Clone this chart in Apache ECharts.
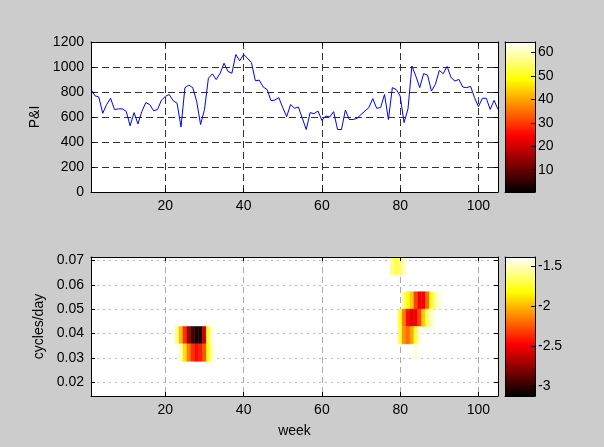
<!DOCTYPE html>
<html>
<head>
<meta charset="utf-8">
<script src="https://cdn.jsdelivr.net/npm/echarts@6/dist/echarts.min.js"></script>
<style>
html, body { margin: 0; padding: 0; background: #cccccc; }
#main { width: 604px; height: 447px; }
</style>
</head>
<body>
<div id="main"></div>
<script>
// weekly P&I, weeks 1..105
var pnlValues = [
	820, 770, 760, 630, 700, 750, 660, 665, 665, 645,
	530, 635, 545, 645, 715, 700, 650, 660, 735, 765,
	780, 730, 710, 520, 835, 855, 835, 725, 540, 660,
	910, 945, 900, 950, 1030, 965, 950, 1100, 1050, 1100,
	1070, 1035, 890, 895, 840, 820, 730, 736, 755, 675,
	603, 700, 670, 680, 590, 500, 635, 627, 648, 573,
	608, 600, 643, 500, 500, 656, 580, 580, 590, 620,
	648, 675, 747, 670, 675, 780, 580, 835, 820, 768,
	555, 665, 1008, 928, 835, 947, 935, 808, 861, 973,
	947, 1005, 915, 888, 901, 840, 835, 845, 755, 683,
	750, 750, 661, 733, 661
];
var weekTicks = [20, 40, 60, 80, 100];
var pnlTicks = [0, 200, 400, 600, 800, 1000, 1200];

// spectrum: frequency bin centres (cycles/day) and the coloured cells [week, bin, log power]
var freqCenters = [0.01786, 0.02500, 0.03214, 0.03929, 0.04643, 0.05357, 0.06071, 0.06786];
var binHeight = 1 / 140;
var freqTicks = [0.02, 0.03, 0.04, 0.05, 0.06, 0.07];
var spectrumCells = [
	// first burst
	[23, 3, -1.6], [24, 3, -2.0], [25, 3, -2.35], [26, 3, -2.7], [27, 3, -2.95],
	[28, 3, -3.05], [29, 3, -3.05], [30, 3, -2.6], [31, 3, -1.75], [32, 3, -1.45],
	[24, 2, -1.5], [25, 2, -1.9], [26, 2, -2.15], [27, 2, -2.35], [28, 2, -2.45],
	[29, 2, -2.4], [30, 2, -2.25], [31, 2, -1.8], [32, 2, -1.5],
	// second burst
	[78, 7, -1.6], [79, 7, -1.7], [80, 7, -1.65], [81, 7, -1.5],
	[81, 5, -1.6], [82, 5, -1.8], [83, 5, -1.95], [84, 5, -2.3], [85, 5, -2.5],
	[86, 5, -2.5], [87, 5, -2.2], [88, 5, -1.8], [89, 5, -1.55], [90, 5, -1.45],
	[80, 4, -1.75], [81, 4, -2.15], [82, 4, -2.45], [83, 4, -2.55], [84, 4, -2.5],
	[85, 4, -2.3], [86, 4, -1.95], [87, 4, -1.65], [88, 4, -1.5],
	[80, 3, -1.7], [81, 3, -2.1], [82, 3, -2.2], [83, 3, -2.05], [84, 3, -1.75], [85, 3, -1.45],
	[84, 2, -1.45]
];

// colour bars
var topBarRange = [0.5, 64.5];
var topBarTicks = [10, 20, 30, 40, 50, 60];
var bottomBarRange = [-3.12, -1.39];
var bottomBarTicks = [-3, -2.5, -2, -1.5];

var hotColors = ['#000000', '#550000', '#aa0000', '#ff0000', '#ff5500', '#ffaa00', '#ffff00', '#ffff80', '#ffffff'];
var hotGradient = new echarts.graphic.LinearGradient(0, 1, 0, 0, [
	{ offset: 0, color: '#000000' },
	{ offset: 0.375, color: '#ff0000' },
	{ offset: 0.75, color: '#ffff00' },
	{ offset: 1, color: '#ffffff' }
]);

var font = { fontFamily: 'Liberation Sans', fontSize: 14, color: '#000' };

var pnlData = [];
for (var i = 0; i < pnlValues.length; i++) {
	pnlData.push([i + 1, pnlValues[i]]);
}
var cellData = [];
for (var i = 0; i < spectrumCells.length; i++) {
	var c = spectrumCells[i];
	cellData.push([c[0], freqCenters[c[1]], c[2]]);
}

function plainNumber(v) { //no thousands separator
	return String(v);
}

// an axis with frame line and inward ticks; labels only when asked
function frameAxis(gridIndex, position, min, max, ticks, showLabel, extra) {
	var ax = {
		type: 'value',
		gridIndex: gridIndex,
		position: position,
		min: min,
		max: max,
		z: 10,
		axisLine: { show: true, onZero: false, lineStyle: { color: '#000', width: 1 } },
		axisTick: { show: ticks != null, inside: true, length: 4, customValues: ticks || undefined, lineStyle: { color: '#000' } },
		axisLabel: {
			show: showLabel, customValues: ticks || undefined, margin: 7, formatter: plainNumber,
			fontFamily: font.fontFamily, fontSize: font.fontSize, color: font.color
		},
		splitLine: { show: false }
	};
	for (var k in extra) ax[k] = extra[k];
	return ax;
}

var myChart = echarts.init(document.getElementById('main'), null, { renderer: 'canvas' });

var option = {
	backgroundColor: '#cccccc',
	animation: false,
	grid: [
		{ left: 91, top: 42, width: 407, height: 150, show: true, backgroundColor: '#fff', borderWidth: 0 },
		{ left: 505, top: 42, width: 30, height: 150 },
		{ left: 91, top: 257, width: 407, height: 139, show: true, backgroundColor: '#fff', borderWidth: 0 },
		{ left: 505, top: 257, width: 30, height: 139 }
	],
	xAxis: [
		frameAxis(0, 'bottom', 1, 105, weekTicks, true, {
			z: 1,
			splitLine: { show: true, lineStyle: { color: '#333', type: [7, 4], width: 1 } }
		}),
		frameAxis(0, 'top', 1, 105, weekTicks, false),
		frameAxis(1, 'bottom', 0, 1, null, false),
		frameAxis(1, 'top', 0, 1, null, false),
		frameAxis(2, 'bottom', 1, 105, weekTicks, true, {
			z: 1,
			name: 'week', nameLocation: 'middle', nameGap: 28,
			nameTextStyle: font,
			splitLine: { show: true, lineStyle: { color: '#aaaaaa', type: [6, 4], width: 1 } }
		}),
		frameAxis(2, 'top', 1, 105, weekTicks, false),
		frameAxis(3, 'bottom', 0, 1, null, false),
		frameAxis(3, 'top', 0, 1, null, false)
	],
	yAxis: [
		frameAxis(0, 'left', 0, 1200, pnlTicks, true, {
			z: 1,
			name: 'P&I', nameLocation: 'middle', nameGap: 32,
			nameTextStyle: font,
			splitLine: { show: true, lineStyle: { color: '#333', type: [7, 4], width: 1 } }
		}),
		frameAxis(0, 'right', 0, 1200, pnlTicks, false),
		frameAxis(1, 'left', topBarRange[0], topBarRange[1], null, false),
		frameAxis(1, 'right', topBarRange[0], topBarRange[1], topBarTicks, true, {
			axisLabel: { show: true, customValues: topBarTicks, margin: 3, fontFamily: font.fontFamily, fontSize: font.fontSize, color: font.color }
		}),
		frameAxis(2, 'left', 1 / 70, 1 / 14, freqTicks, true, {
			z: 1,
			name: 'cycles/day', nameLocation: 'middle', nameGap: 38,
			nameTextStyle: font,
			axisLabel: {
				show: true, customValues: freqTicks, margin: 7, fontFamily: font.fontFamily, fontSize: font.fontSize, color: font.color,
				formatter: function (v) { return v.toFixed(2); }
			},
			splitLine: { show: true, lineStyle: { color: '#bbbbbb', type: [2, 4], width: 1 } }
		}),
		frameAxis(2, 'right', 1 / 70, 1 / 14, freqTicks, false),
		frameAxis(3, 'left', bottomBarRange[0], bottomBarRange[1], null, false),
		frameAxis(3, 'right', bottomBarRange[0], bottomBarRange[1], bottomBarTicks, true, {
			axisLabel: { show: true, customValues: bottomBarTicks, margin: 3, fontFamily: font.fontFamily, fontSize: font.fontSize, color: font.color }
		})
	],
	visualMap: [{
		type: 'continuous',
		show: false,
		seriesIndex: 2,
		dimension: 2,
		min: bottomBarRange[0],
		max: bottomBarRange[1],
		inRange: { color: hotColors }
	}],
	series: [
		{
			type: 'line',
			xAxisIndex: 0,
			yAxisIndex: 0,
			data: pnlData,
			showSymbol: false,
			lineStyle: { color: '#0000ff', width: 1 },
			z: 3
		},
		{ // top colour bar
			type: 'custom',
			xAxisIndex: 2,
			yAxisIndex: 2,
			data: [[0, 1, topBarRange[0], topBarRange[1]]],
			encode: { x: [0, 1], y: [2, 3] },
			renderItem: function (params, api) {
				var p0 = api.coord([api.value(0), api.value(3)]);
				var p1 = api.coord([api.value(1), api.value(2)]);
				return { type: 'rect', shape: { x: p0[0], y: p0[1], width: p1[0] - p0[0], height: p1[1] - p0[1] }, style: { fill: hotGradient } };
			}
		},
		{ // spectrum cells
			type: 'custom',
			xAxisIndex: 4,
			yAxisIndex: 4,
			data: cellData,
			encode: { x: 0, y: 1 },
			z: 3,
			renderItem: function (params, api) {
				var tl = api.coord([api.value(0) - 0.5, api.value(1) + binHeight / 2]);
				var size = api.size([1, binHeight]);
				var color = api.visual('color');
				return {
					type: 'rect',
					shape: { x: tl[0], y: tl[1], width: size[0], height: size[1] },
					style: { fill: color, stroke: color, lineWidth: 0.5 }
				};
			}
		},
		{ // bottom colour bar
			type: 'custom',
			xAxisIndex: 6,
			yAxisIndex: 6,
			data: [[0, 1, bottomBarRange[0], bottomBarRange[1]]],
			encode: { x: [0, 1], y: [2, 3] },
			renderItem: function (params, api) {
				var p0 = api.coord([api.value(0), api.value(3)]);
				var p1 = api.coord([api.value(1), api.value(2)]);
				return { type: 'rect', shape: { x: p0[0], y: p0[1], width: p1[0] - p0[0], height: p1[1] - p0[1] }, style: { fill: hotGradient } };
			}
		}
	]
};

myChart.setOption(option);
</script>
</body>
</html>
